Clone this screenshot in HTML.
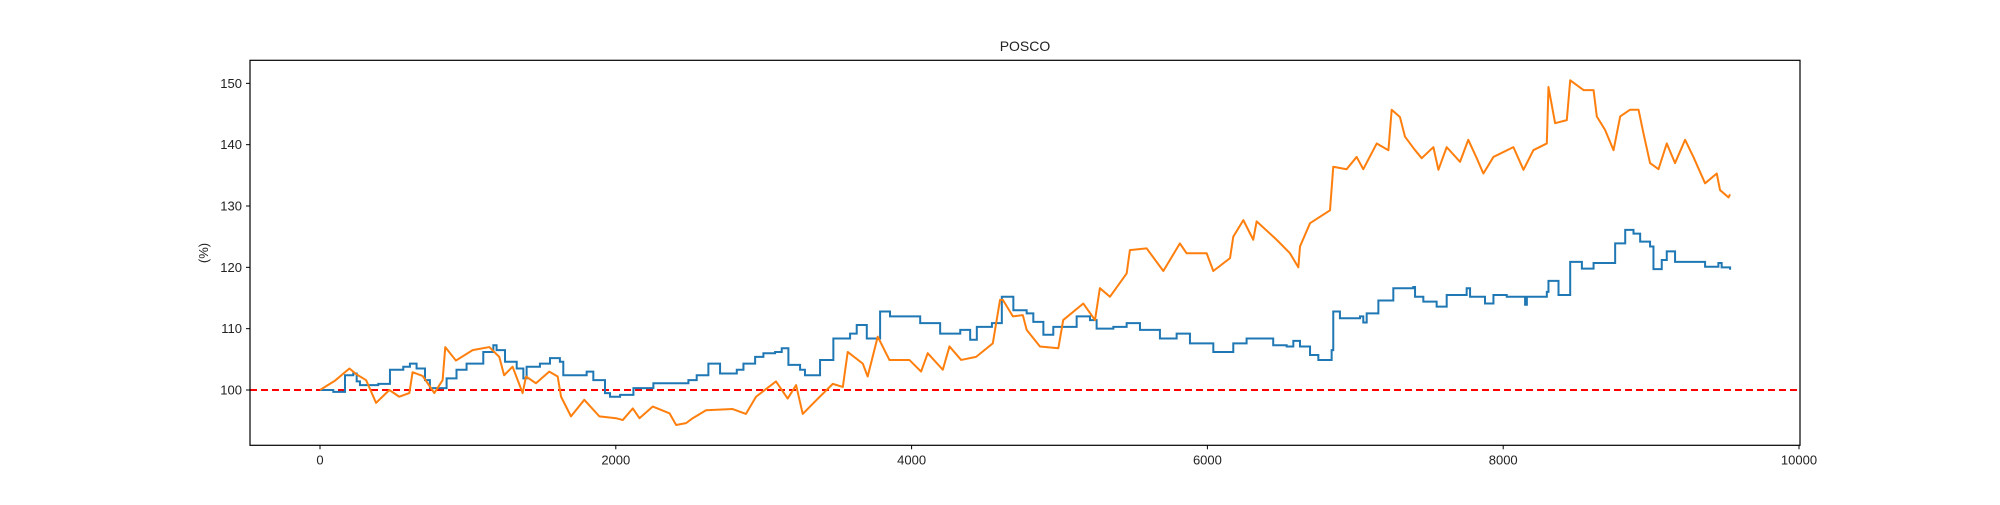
<!DOCTYPE html>
<html><head><meta charset="utf-8"><style>
html,body{margin:0;padding:0;background:#fff;}
svg text{font-family:"Liberation Sans",sans-serif;fill:#222;}
</style></head><body>
<svg id="chart" width="2000" height="500" viewBox="0 0 2000 500" xmlns="http://www.w3.org/2000/svg">
<rect width="2000" height="500" fill="#fff"/>
<text x="1025" y="51" font-size="14" text-anchor="middle">POSCO</text>
<text transform="translate(208,253) rotate(-90)" font-size="13" text-anchor="middle">(%)</text>
<g id="plot"></g>
</svg>
<script>
const xTicks = [0, 2000, 4000, 6000, 8000, 10000];
const yTicks = [100, 110, 120, 130, 140, 150];
const baseline = 100;
const blueT = [0,45,90,169,225,248,270,394,473,563,608,653,710,743,856,923,991,1104,1172,1194,1251,1330,1375,1397,1487,1555,1622,1645,1803,1848,1927,1961,2029,2119,2254,2491,2547,2626,2705,2818,2863,2942,2998,3077,3122,3167,3246,3279,3381,3471,3584,3629,3697,3787,3854,4058,4193,4329,4396,4441,4543,4610,4688,4778,4823,4891,4958,5116,5206,5251,5364,5454,5544,5679,5792,5882,6040,6175,6265,6445,6536,6581,6626,6694,6750,6840,6851,6896,7032,7054,7077,7156,7257,7392,7404,7460,7550,7618,7753,7776,7877,7934,8024,8148,8160,8295,8306,8374,8453,8532,8611,8757,8825,8881,8926,8993,9016,9072,9106,9162,9365,9455,9477,9534];
const blueV = [100,100,99.7,102.4,102.7,101.4,100.8,101,103.3,103.8,104.3,103.5,101.6,100.3,101.9,103.3,104.3,106.2,107.3,106.5,104.6,103.5,101.9,103.8,104.3,105.2,104.6,102.4,103,101.6,99.5,98.9,99.2,100.3,101.1,101.6,102.4,104.3,102.7,103.3,104.3,105.4,106,106.2,106.8,104.1,103.3,102.4,104.9,108.4,109.2,110.6,108.4,112.8,112,110.9,109.2,109.8,108.2,110.3,110.9,115.2,113,112.5,111.1,109,110.3,112,111.4,110,110.3,110.9,109.8,108.4,109.2,107.6,106.2,107.6,108.4,107.3,107.1,108,107.1,105.7,104.9,106.5,112.8,111.7,112,111,112.5,114.6,116.6,116.8,115.2,114.4,113.6,115.5,116.6,115.2,114.1,115.5,115.2,113.9,115.2,116,117.8,115.5,120.9,119.8,120.7,123.9,126.1,125.5,124.2,123.4,119.7,121.2,122.6,120.9,120.1,120.7,120,119.6];
const orangeT = [0,100,199,250,312,379,469,536,604,626,694,773,829,847,919,1032,1145,1212,1245,1302,1370,1393,1460,1550,1607,1630,1697,1787,1889,2002,2047,2115,2160,2250,2363,2408,2475,2520,2610,2790,2880,2948,3083,3162,3219,3264,3354,3467,3535,3568,3670,3703,3771,3850,3985,4064,4109,4211,4256,4335,4436,4549,4598,4617,4685,4752,4778,4868,4992,5025,5161,5240,5273,5341,5454,5476,5589,5702,5814,5859,5995,6040,6153,6175,6243,6310,6333,6468,6558,6615,6626,6694,6829,6851,6941,7009,7054,7145,7224,7246,7302,7336,7404,7449,7528,7562,7618,7708,7764,7821,7866,7934,8069,8137,8204,8295,8306,8351,8430,8453,8543,8611,8633,8689,8746,8791,8858,8915,8948,8993,9050,9106,9162,9230,9286,9365,9444,9466,9523,9534];
const orangeV = [100,101.5,103.5,102.5,101.6,97.9,100,98.9,99.5,102.9,102.3,99.5,101.6,107,104.8,106.5,107,105.4,102.4,103.8,99.5,102.2,101.1,103,102.2,98.9,95.7,98.4,95.7,95.4,95.1,97,95.4,97.3,96.2,94.3,94.6,95.4,96.7,96.9,96.1,98.9,101.4,98.6,100.8,96.1,98.3,101,100.5,106.2,104.3,102.2,108.7,104.9,104.9,103,106,103.3,107.1,104.9,105.4,107.6,114.7,114.7,112,112.2,109.8,107.1,106.8,111.4,114.1,111.4,116.6,115.2,119,122.8,123.1,119.4,123.9,122.3,122.3,119.4,121.5,125,127.7,124.5,127.5,124.5,122.3,120,123.4,127.2,129.3,136.4,136,138,136,140.2,139.1,145.7,144.5,141.3,139.1,137.8,139.6,135.9,139.6,137.2,140.8,137.8,135.3,138,139.6,135.9,139.1,140.2,149.4,143.5,144,150.5,148.9,148.9,144.6,142.4,139.1,144.6,145.7,145.7,141.9,137,136,140.2,137,140.8,138,133.7,135.3,132.6,131.4,131.9];

const L=250, R=1800, T=60.3, B=445.3;
const xs = t => 320 + t*0.1479;
const ys = v => 390 - (v-100)*6.133;
const NS="http://www.w3.org/2000/svg";
const plot=document.getElementById('plot');
function mk(tag, attrs, parent){const e=document.createElementNS(NS,tag);for(const k in attrs)e.setAttribute(k,attrs[k]);(parent||plot).appendChild(e);return e;}

const bl = mk('line',{x1:L,x2:R,y1:ys(baseline),y2:ys(baseline),stroke:'#ff0000','stroke-width':2,'stroke-dasharray':'7,4'});



let d='';
for(let i=0;i<blueT.length;i++){
  const x=xs(blueT[i]), y=ys(blueV[i]);
  if(i===0) d+=`M${x},${y}`; else d+=`H${x}V${y}`;
}
const bp = mk('path',{d:d,fill:'none',stroke:'#1f77b4','stroke-width':2});



const od = orangeT.map((t,i)=>(i?'L':'M')+xs(t)+','+ys(orangeV[i])).join('');
const op = mk('path',{d:od,fill:'none',stroke:'#ff7f0e','stroke-width':2,'stroke-linejoin':'round'});



const fr = mk('rect',{x:L,y:T,width:R-L,height:B-T,fill:'none',stroke:'#000','stroke-width':1.2});



xTicks.forEach(t=>{
  const x=xs(t);
  const tk = mk('line',{x1:x,x2:x,y1:B,y2:B+4,stroke:'#000','stroke-width':1});
  
  
  const lb = mk('text',{x:x,y:B+19,'font-size':13,'text-anchor':'middle'});
  lb.textContent=t;
  
  
});
yTicks.forEach(v=>{
  const y=ys(v);
  const tk = mk('line',{x1:L-4,x2:L,y1:y,y2:y,stroke:'#000','stroke-width':1});
  
  
  const lb = mk('text',{x:L-8,y:y+4.5,'font-size':13,'text-anchor':'end'});
  lb.textContent=v;
  
  
});
</script>
</body></html>
